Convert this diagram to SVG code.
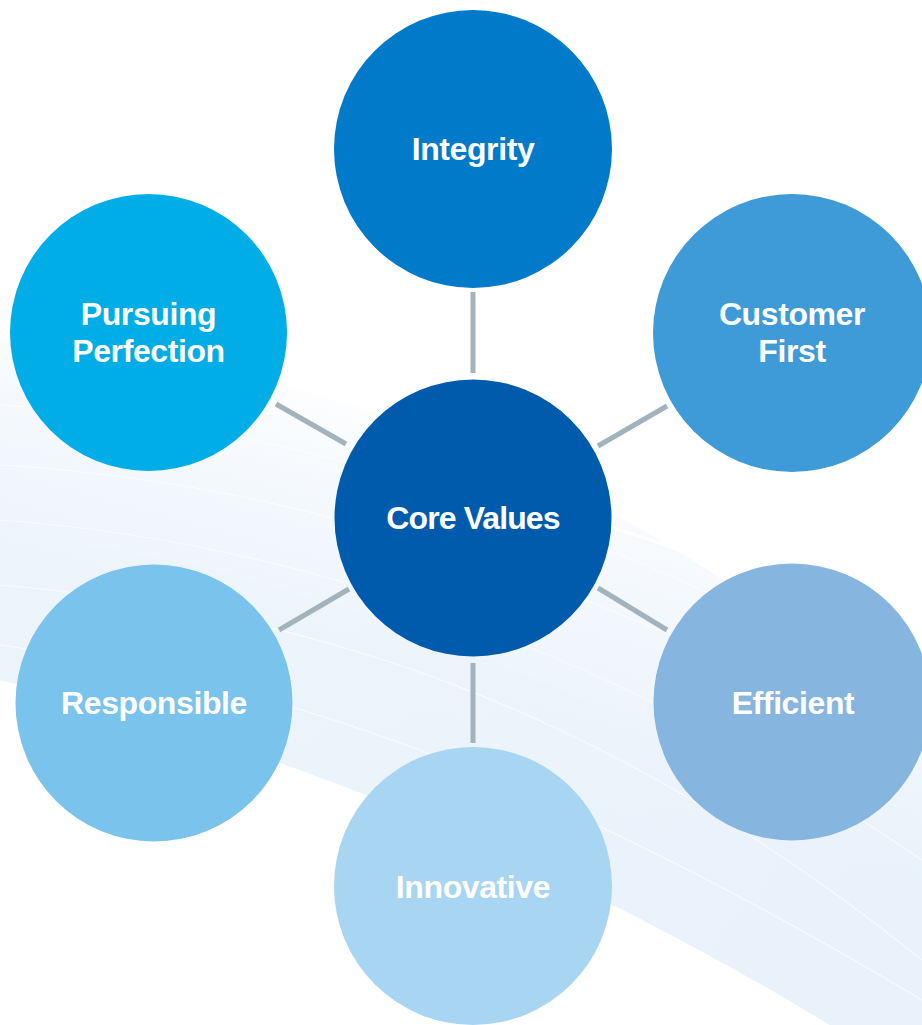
<svg xmlns="http://www.w3.org/2000/svg" width="922" height="1025" viewBox="0 0 922 1025">
  <style>
    .lbl { font-family: "Liberation Sans", Arial, sans-serif; font-weight: bold; font-size: 32px; fill: #ffffff; text-anchor: middle; letter-spacing: -0.4px; }
    .link { stroke: #a3b3bd; stroke-width: 5; fill: none; }
    .streak { stroke: #ffffff; fill: none; stroke-width: 1.1; opacity: 0.65; }
  </style>
  <defs>
    <linearGradient id="bandFill" gradientUnits="userSpaceOnUse" x1="300" y1="360" x2="200" y2="720">
      <stop offset="0" stop-color="#ffffff"/>
      <stop offset="0.3" stop-color="#f5f9fd"/>
      <stop offset="1" stop-color="#e6f1fa"/>
    </linearGradient>
    <linearGradient id="bandInner" gradientUnits="userSpaceOnUse" x1="400" y1="560" x2="900" y2="1000">
      <stop offset="0" stop-color="#edf5fb"/>
      <stop offset="1" stop-color="#e9f2fb"/>
    </linearGradient>
  </defs>

  <rect width="922" height="1025" fill="#ffffff"/>

  <!-- pale sweeping background band -->
  <g id="background-band">
    <path d="M0,340 C 250,360 620,440 922,745 L922,1025 L830,1025 C 560,860 260,740 0,680 Z" fill="url(#bandFill)"/>
    <path d="M0,535 C 300,560 620,700 922,880 L922,1025 L830,1025 C 560,860 260,740 0,680 Z" fill="url(#bandInner)" opacity="0.8"/>
    <path class="streak" d="M0,405 C 250,420 560,500 922,700"/>
    <path class="streak" d="M0,465 C 260,480 560,560 922,760"/>
    <path class="streak" d="M0,520 C 280,540 600,640 922,860"/>
    <path class="streak" d="M0,585 C 300,610 600,700 922,960"/>
    <path class="streak" d="M0,645 C 260,680 520,760 922,1000"/>
    <path d="M560,512 C 640,535 700,555 760,585" stroke="#ffffff" stroke-width="3" fill="none" opacity="0.9"/>
  </g>

  <!-- connectors from the centre to each value -->
  <g id="connectors">
    <line class="link" x1="473" y1="292" x2="473" y2="373"/>
    <line class="link" x1="473" y1="663" x2="473" y2="743"/>
    <line class="link" x1="276" y1="404" x2="346" y2="444"/>
    <line class="link" x1="598" y1="446" x2="667" y2="406"/>
    <line class="link" x1="279" y1="630" x2="349" y2="589"/>
    <line class="link" x1="598" y1="588" x2="667" y2="630"/>
  </g>

  <g id="node-integrity">
    <circle cx="473" cy="149" r="139" fill="#007ac9"/>
    <text class="lbl" x="473" y="160">Integrity</text>
  </g>

  <g id="node-customer-first">
    <circle cx="792" cy="333" r="139" fill="#3e9bd8"/>
    <text class="lbl" x="792" y="325">Customer</text>
    <text class="lbl" x="792" y="362">First</text>
  </g>

  <g id="node-pursuing-perfection">
    <circle cx="148.5" cy="332.5" r="138.5" fill="#00ade6"/>
    <text class="lbl" x="148.5" y="325">Pursuing</text>
    <text class="lbl" x="148.5" y="362">Perfection</text>
  </g>

  <g id="node-core-values">
    <circle cx="473" cy="518" r="138.5" fill="#005bac"/>
    <text class="lbl" x="473" y="529" style="letter-spacing:-0.9px">Core Values</text>
  </g>

  <g id="node-responsible">
    <circle cx="154" cy="703" r="138.5" fill="#7ac3ed"/>
    <text class="lbl" x="154" y="714">Responsible</text>
  </g>

  <g id="node-efficient">
    <circle cx="792" cy="702" r="138.5" fill="#86b5e0"/>
    <text class="lbl" x="793" y="714">Efficient</text>
  </g>

  <g id="node-innovative">
    <circle cx="473" cy="886" r="139" fill="#a8d5f2"/>
    <text class="lbl" x="473" y="898">Innovative</text>
  </g>
</svg>
